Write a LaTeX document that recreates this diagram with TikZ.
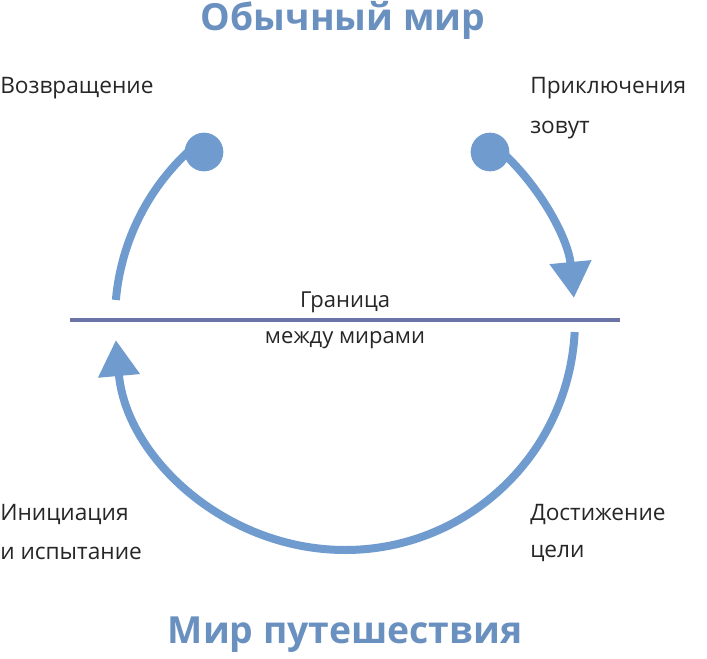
\documentclass[tikz,border=0pt]{standalone}
\usepackage{fontspec}
\setmainfont{Open Sans}
\usetikzlibrary{arrows.meta}
\definecolor{arcblue}{HTML}{6F9BCE}
\definecolor{lineblue}{HTML}{6B74A6}
\definecolor{titleblue}{HTML}{6A90C0}
\tikzset{
  lbl/.style={font=\fontsize{17pt}{24pt}\selectfont, anchor=west, align=left, text=black!85, inner sep=0},
  ttl/.style={font=\fontsize{28pt}{32pt}\selectfont\bfseries, text=titleblue, inner sep=0},
  arcline/.style={arcblue, line width=6pt},
  bigtip/.style={-{Triangle[width=30pt,length=27pt]}},
  dot/.style={circle, fill=arcblue, minimum size=29pt, inner sep=0}
}
\begin{document}
\begin{tikzpicture}[x=0.75pt,y=0.75pt]
\useasboundingbox (0,0) rectangle (707,658);
\coordinate (c) at (345,338);
\node[ttl] (t1) at (343,638) {Обычный мир};
\node[ttl] (t2) at (345,23) {Мир путешествия};
\draw[lineblue, line width=3.5pt] (70,338) -- (620,338);
\node[font=\fontsize{16.5pt}{20pt}\selectfont, text=black!85] (g1) at (345,356) {Граница};
\node[font=\fontsize{16.5pt}{20pt}\selectfont, text=black!85] (g2) at (345,318) {между мирами};
\draw[arcline,bigtip] (c) ++(49:172.5pt) arc[start angle=49,end angle=5.5,radius=172.5pt];
\draw[arcline] (c) ++(131:172.5pt) arc[start angle=131,end angle=175,radius=172.5pt];
\draw[arcline,bigtip] (c) ++(-3:172.5pt) arc[start angle=-3,end angle=-175,radius=172.5pt];
\node[dot] (d1) at (490,506) {};
\node[dot] (d2) at (204,506) {};
\node[lbl] (l1) at (0,570) {Возвращение};
\node[lbl] (l2) at (530,570) {Приключения};
\node[lbl] (l3) at (530,528) {зовут};
\node[lbl] (l4) at (0,143) {Инициация};
\node[lbl] (l5) at (0,105) {и испытание};
\node[lbl] (l6) at (530,143) {Достижение};
\node[lbl] (l7) at (530,105) {цели};
\end{tikzpicture}
\end{document}
